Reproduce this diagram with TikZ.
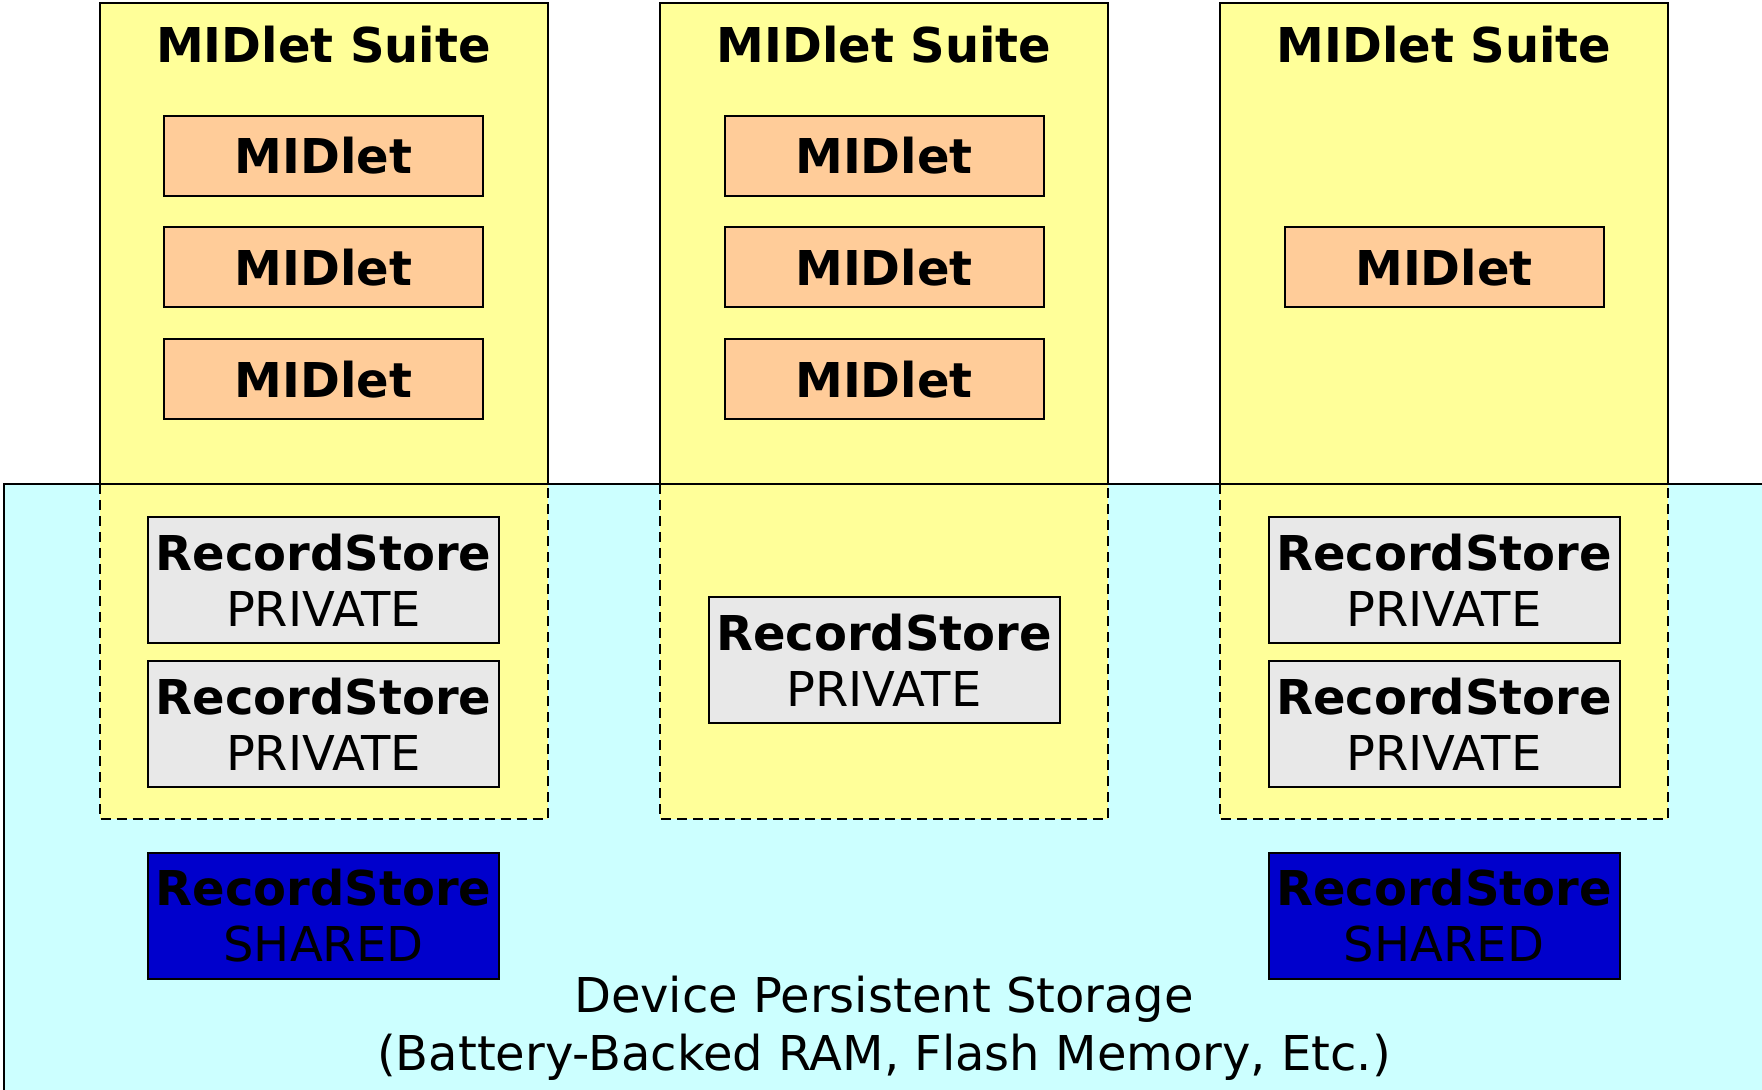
\documentclass[tikz,border=0pt]{standalone}
\usepackage{fontspec}
\setmainfont{DejaVu Sans}
\definecolor{suiteyellow}{HTML}{FFFF99}
\definecolor{midletorange}{HTML}{FFCC99}
\definecolor{storegray}{HTML}{E8E8E8}
\definecolor{sharedblue}{HTML}{0000CC}
\definecolor{devcyan}{HTML}{CCFFFF}
\begin{document}
\begin{tikzpicture}[x=0.5pt,y=-0.5pt,
  every node/.style={inner sep=0pt,outer sep=0pt},
  txt/.style={font=\fontsize{24}{28}\selectfont,align=center},
  suitetop/.style={draw=black,line width=1pt,fill=suiteyellow},
  suitebot/.style={draw=black,line width=1pt,dashed,dash pattern=on 5pt off 3pt,fill=suiteyellow},
  midletbox/.style={txt,draw=black,line width=1pt,fill=midletorange,minimum width=159.5pt,minimum height=40pt,font=\fontsize{24}{28}\selectfont\bfseries},
  privbox/.style={txt,draw=black,line width=1pt,fill=storegray,minimum width=175.5pt,minimum height=63pt},
  sharedbox/.style={txt,draw=black,line width=1pt,fill=sharedblue,minimum width=175.5pt,minimum height=63pt},
  title/.style={txt,font=\fontsize{24}{28}\selectfont\bfseries}]
\useasboundingbox (0,0) rectangle (1762,1090);
\begin{scope}
\clip (0,0) rectangle (1762,1090);
% device storage
\draw[line width=1pt,fill=devcyan] (3.5,484) rectangle (1775,1100);
% suites
\foreach \cx/\nm in {323.5/sa,884/sb,1444/sc}{
  \draw[suitebot] (\cx-224,484) rectangle (\cx+224,819);
  \draw[suitetop] (\cx-224,3.5) rectangle (\cx+224,484);
}
\end{scope}
\node[title] (ta) at (323.5,45) {MIDlet Suite};
\node[title] (tb) at (884,45) {MIDlet Suite};
\node[title] (tc) at (1444,45) {MIDlet Suite};
% midlets
\node[midletbox] (ma1) at (323.5,156) {MIDlet};
\node[midletbox] (ma2) at (323.5,267.5) {MIDlet};
\node[midletbox] (ma3) at (323.5,379.5) {MIDlet};
\node[midletbox] (mb1) at (884,156) {MIDlet};
\node[midletbox] (mb2) at (884,267.5) {MIDlet};
\node[midletbox] (mb3) at (884,379.5) {MIDlet};
\node[midletbox] (mc1) at (1444,267.5) {MIDlet};
% record stores
\node[privbox] (ra1) at (323.5,580) {\textbf{RecordStore}\\PRIVATE};
\node[privbox] (ra2) at (323.5,724) {\textbf{RecordStore}\\PRIVATE};
\node[privbox] (rb1) at (884,660) {\textbf{RecordStore}\\PRIVATE};
\node[privbox] (rc1) at (1444,580) {\textbf{RecordStore}\\PRIVATE};
\node[privbox] (rc2) at (1444,724) {\textbf{RecordStore}\\PRIVATE};
\node[sharedbox] (sa) at (323.5,915.5) {\textbf{RecordStore}\\SHARED};
\node[sharedbox] (sc) at (1444,915.5) {\textbf{RecordStore}\\SHARED};
% device label
\node[txt,font=\fontsize{24}{29}\selectfont] (dev) at (884,1028) {Device Persistent Storage\\(Battery-Backed RAM, Flash Memory, Etc.)};
\end{tikzpicture}
\end{document}
